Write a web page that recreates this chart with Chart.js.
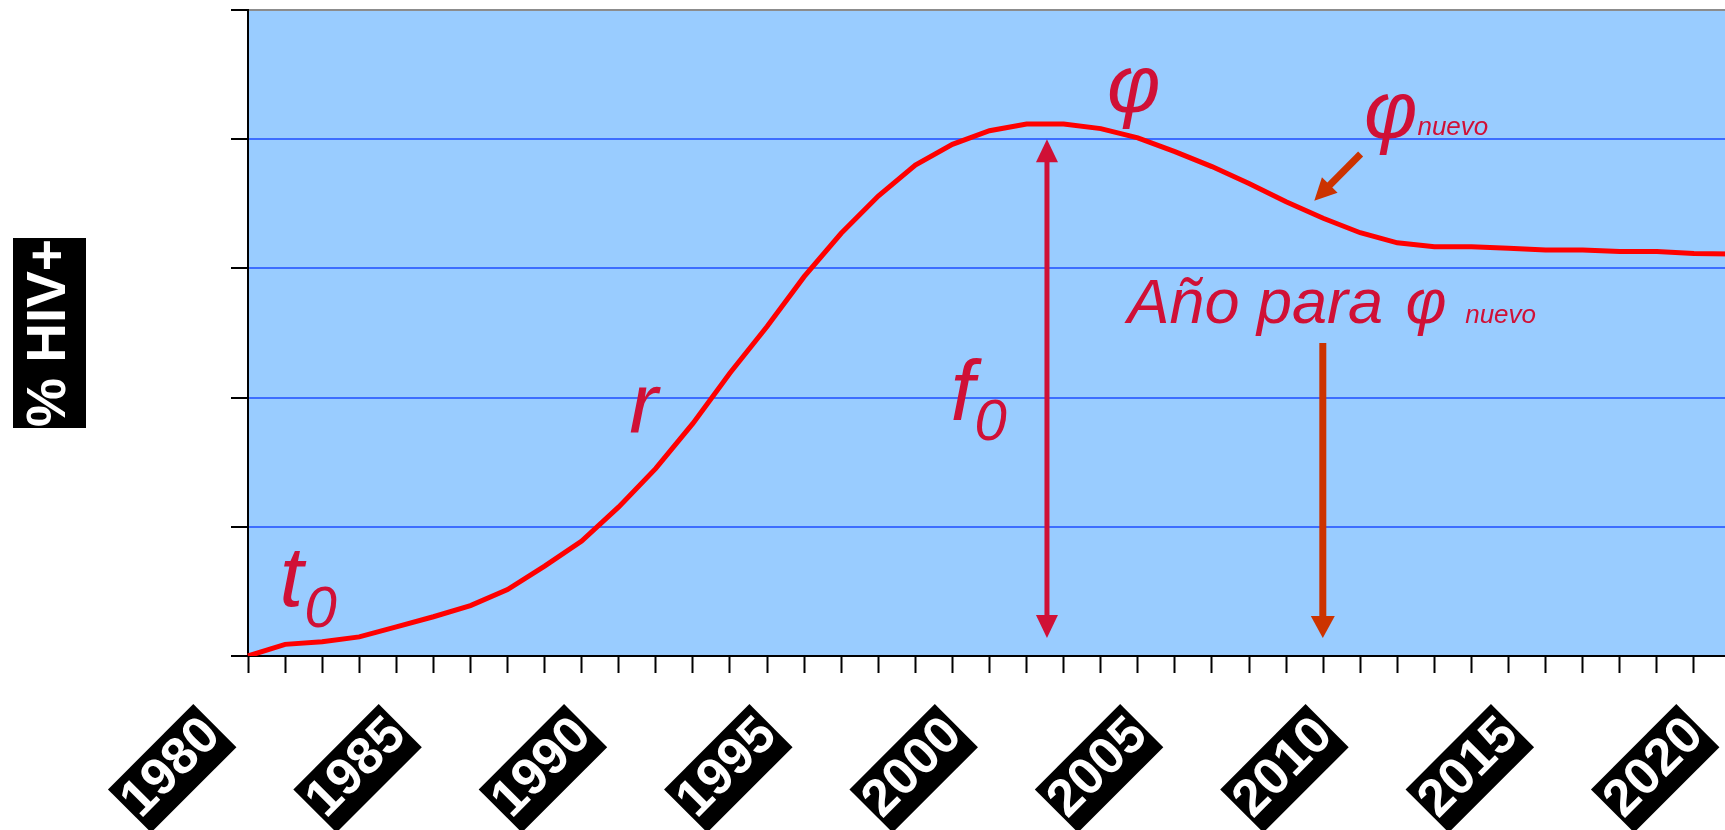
<!DOCTYPE html>
<html>
<head>
<meta charset="utf-8">
<script src="https://cdn.jsdelivr.net/npm/chart.js@4.4.1/dist/chart.umd.min.js"></script>
<style>
  html, body { margin: 0; padding: 0; overflow: hidden; background: #ffffff; }
  #wrap { width: 1731px; height: 830px; }
  canvas { display: block; }
</style>
</head>
<body>
<div id="wrap"><canvas id="c" width="1731" height="830"></canvas></div>
<script>
// ---- data ----
const years = [1980, 1981, 1982, 1983, 1984, 1985, 1986, 1987, 1988, 1989,
               1990, 1991, 1992, 1993, 1994, 1995, 1996, 1997, 1998, 1999,
               2000, 2001, 2002, 2003, 2004, 2005, 2006, 2007, 2008, 2009,
               2010, 2011, 2012, 2013, 2014, 2015, 2016, 2017, 2018, 2019, 2020];
const prevalence = [0, 0.45, 0.55, 0.74, 1.13, 1.52, 1.95, 2.57, 3.48, 4.45,
                    5.77, 7.26, 9.00, 10.95, 12.75, 14.68, 16.36, 17.80, 19.00, 19.80,
                    20.33, 20.59, 20.59, 20.41, 20.05, 19.52, 18.94, 18.29, 17.58, 16.94,
                    16.38, 15.99, 15.84, 15.84, 15.78, 15.71, 15.71, 15.65, 15.65, 15.58, 15.56];
const labeledYears = [1980, 1985, 1990, 1995, 2000, 2005, 2010, 2015, 2020];
const yAxisTitle = '% HIV+';

// ---- annotation layout (in data coordinates: year, value) ----
const CRIMSON = '#d01036';
const ORANGE = '#cc3300';
const annoTexts = [
  { text: 't', sub: '0', year: 1980.85, value: 1.93, size: 86, subSize: 58, subDrop: 21, subGap: 1 },
  { text: 'r', year: 1990.28, value: 8.63, size: 86 },
  { text: 'f', sub: '0', year: 1998.95, value: 9.13, size: 86, subSize: 58, subDrop: 20 },
  { text: 'φ', year: 2003.17, value: 21.05, size: 82 },
  { text: 'φ', sub: 'nuevo', year: 2010.10, value: 20.03, size: 82, subSize: 26, subDrop: -3, subGap: 0 },
  { text: 'Año para', year: 2003.72, value: 12.89, size: 63 },
  { text: 'φ', year: 2011.22, value: 12.89, size: 63 },
  { text: 'nuevo', year: 2012.83, value: 12.89, size: 26 }
];
const annoArrows = [
  { x1: 2001.55, y1: 0.70, x2: 2001.55, y2: 20.0, width: 5, head: 23, half: 11, color: CRIMSON, both: true },
  { x1: 2008.99, y1: 12.11, x2: 2008.99, y2: 0.70, width: 7, head: 22, half: 12, color: ORANGE, both: false },
  { x1: 2010.01, y1: 19.43, x2: 2008.76, y2: 17.62, width: 7, head: 22, half: 11, color: ORANGE, both: false }
];

function arrowHead(ctx, tx, ty, ux, uy, head, half) {
  const bx = tx - ux * head, by = ty - uy * head;
  ctx.beginPath();
  ctx.moveTo(tx, ty);
  ctx.lineTo(bx - uy * half, by + ux * half);
  ctx.lineTo(bx + uy * half, by - ux * half);
  ctx.closePath();
  ctx.fill();
}

const bgPlugin = {
  id: 'bgPlugin',
  beforeDraw(chart) {
    const { ctx, chartArea: a } = chart;
    ctx.save();
    ctx.fillStyle = '#99ccff';
    ctx.fillRect(a.left, a.top, a.right - a.left, a.bottom - a.top);
    // black box behind the y axis title
    const ys = chart.scales.y;
    ctx.font = 'bold 55px "Liberation Sans"';
    const w = ctx.measureText(yAxisTitle).width;
    const lh = 73;
    const cx = ys.left + 13 + lh / 2;
    const cy = (ys.top + ys.bottom) / 2;
    ctx.fillStyle = '#000000';
    ctx.fillRect(cx - lh / 2, cy - w / 2 - 1, lh, w + 2);
    ctx.restore();
  }
};

const annoPlugin = {
  id: 'annoPlugin',
  afterDatasetsDraw(chart) {
    const { ctx } = chart;
    const xs = chart.scales.x, ys = chart.scales.y;
    const px = yr => xs.getPixelForValue(yr - years[0]);
    const py = v => ys.getPixelForValue(v);
    ctx.save();
    // arrows
    annoArrows.forEach(a => {
      const x1 = px(a.x1), y1 = py(a.y1), x2 = px(a.x2), y2 = py(a.y2);
      const dx = x2 - x1, dy = y2 - y1, len = Math.hypot(dx, dy);
      const ux = dx / len, uy = dy / len;
      ctx.strokeStyle = a.color;
      ctx.fillStyle = a.color;
      ctx.lineWidth = a.width;
      ctx.lineCap = 'butt';
      const sx = a.both ? x1 + ux * (a.head - 2) : x1;
      const sy = a.both ? y1 + uy * (a.head - 2) : y1;
      ctx.beginPath();
      ctx.moveTo(sx, sy);
      ctx.lineTo(x2 - ux * (a.head - 2), y2 - uy * (a.head - 2));
      ctx.stroke();
      arrowHead(ctx, x2, y2, ux, uy, a.head, a.half);
      if (a.both) arrowHead(ctx, x1, y1, -ux, -uy, a.head, a.half);
    });
    // texts
    ctx.fillStyle = CRIMSON;
    ctx.textBaseline = 'alphabetic';
    ctx.textAlign = 'left';
    annoTexts.forEach(t => {
      const x = px(t.year), y = py(t.value);
      ctx.font = 'italic ' + t.size + 'px "Liberation Sans"';
      ctx.fillText(t.text, x, y);
      if (t.sub) {
        const w = ctx.measureText(t.text).width;
        ctx.font = 'italic ' + t.subSize + 'px "Liberation Sans"';
        ctx.fillText(t.sub, x + w + (t.subGap || 0), y + t.subDrop);
      }
    });
    ctx.restore();
  }
};

new Chart(document.getElementById('c'), {
  type: 'line',
  data: {
    labels: years.map(String),
    datasets: [{
      label: '% HIV+',
      data: prevalence,
      borderColor: '#ff0000',
      borderWidth: 5,
      pointRadius: 0,
      pointHoverRadius: 0,
      tension: 0,
      fill: false
    }]
  },
  options: {
    responsive: false,
    animation: false,
    events: [],
    layout: { padding: { top: 10, left: 0, right: 0, bottom: 0 } },
    plugins: {
      legend: { display: false },
      tooltip: { enabled: false },
      title: { display: false }
    },
    scales: {
      x: {
        type: 'category',
        offset: false,
        grid: {
          drawOnChartArea: false,
          drawTicks: true,
          tickLength: 17,
          tickWidth: 2,
          tickColor: '#000000'
        },
        border: { display: true, color: '#000000', width: 2 },
        ticks: {
          autoSkip: false,
          minRotation: 45,
          maxRotation: 45,
          padding: 36,
          labelOffset: -54,
          color: '#ffffff',
          font: { family: '"Liberation Sans"', size: 52, weight: 'bold', lineHeight: 1.0 },
          callback: function (value, index) {
            const yr = years[index];
            return labeledYears.includes(yr) ? String(yr) : '';
          },
          showLabelBackdrop: ctx => labeledYears.includes(years[ctx.index]),
          backdropColor: '#000000',
          backdropPadding: { top: 4, bottom: 5, left: 2, right: 3 }
        },
        afterFit: scale => {
          scale.height = 174;
          scale.paddingLeft = 0;
          scale.paddingRight = 0;
        }
      },
      y: {
        type: 'linear',
        min: 0,
        max: 25,
        grid: {
          color: ctx => (ctx.tick && ctx.tick.value === 25) ? '#8c8c8c' : '#3d6dff',
          lineWidth: 2,
          drawTicks: true,
          tickLength: 17,
          tickWidth: 2,
          tickColor: '#000000'
        },
        border: { display: true, color: '#000000', width: 2 },
        ticks: { display: false, stepSize: 5 },
        title: {
          display: true,
          text: yAxisTitle,
          color: '#ffffff',
          font: { family: '"Liberation Sans"', size: 55, weight: 'bold', lineHeight: 73 / 55 },
          padding: { top: 13, bottom: 0 }
        },
        afterFit: scale => {
          scale.width = 248;
          scale.paddingTop = 0;
          scale.paddingBottom = 0;
        }
      }
    }
  },
  plugins: [bgPlugin, annoPlugin]
});
</script>
</body>
</html>
